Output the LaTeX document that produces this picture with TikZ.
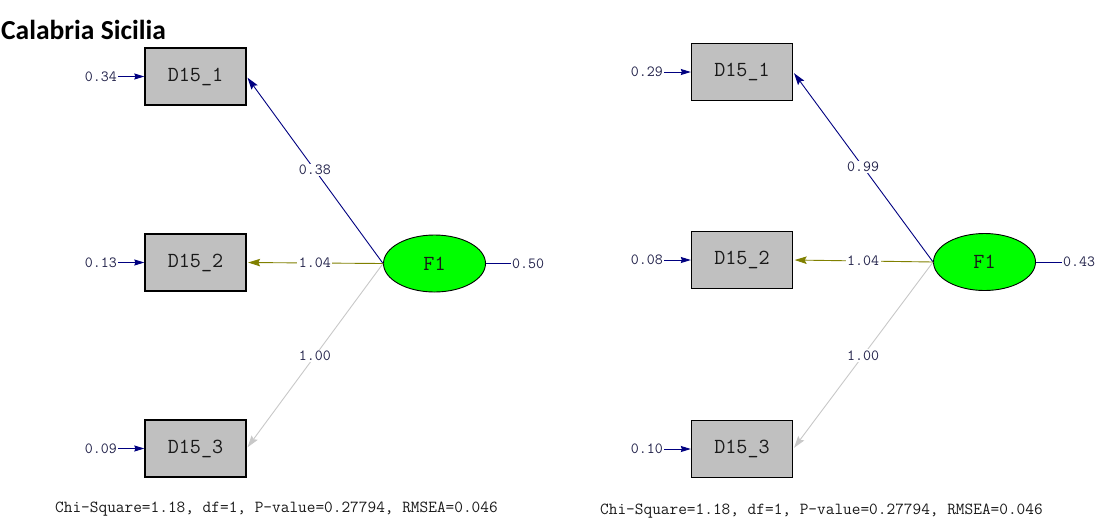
\documentclass[tikz,border=0pt]{standalone}
\usepackage{fontspec}
\newfontfamily\titlefont{Carlito}
\usetikzlibrary{shapes.geometric,arrows.meta}

\definecolor{pathnavy}{RGB}{0,0,128}
\definecolor{patholive}{RGB}{128,128,0}
\definecolor{pathgray}{RGB}{200,200,200}
\definecolor{boxgray}{RGB}{192,192,192}
\definecolor{factorgreen}{RGB}{0,255,0}
\definecolor{labelink}{RGB}{35,35,75}

\tikzset{
  obsbox/.style={draw=black, line width=1.3pt, fill=boxgray,
    minimum width=101pt, minimum height=57pt, inner sep=0pt,
    font=\ttfamily\fontsize{21.5}{21.5}\selectfont, text=black!90},
  factor/.style={ellipse, draw=black, line width=0.9pt, fill=factorgreen,
    minimum width=102pt, minimum height=57pt, inner sep=0pt,
    font=\ttfamily\fontsize{21.5}{21.5}\selectfont, text=black!90},
  numlabel/.style={font=\ttfamily\fontsize{15.5}{15.5}\selectfont, text=labelink, inner sep=1pt},
  onpath/.style={numlabel, fill=white, midway, inner sep=1.5pt},
  errarrow/.style={draw=pathnavy, line width=1pt,
    -{Stealth[length=10pt, width=6pt, inset=1pt]}},
  residline/.style={draw=pathnavy, line width=1pt},
  loading/.style={line width=0.9pt, shorten >=1.5pt,
    -{Stealth[length=12pt, width=7.5pt, inset=2pt]}},
  fitstat/.style={font=\ttfamily\fontsize{16.85}{16.85}\selectfont, text=black!90, anchor=west, inner sep=0pt}
}

\begin{document}
\begin{tikzpicture}[x=1pt, y=-1pt]
  \useasboundingbox (0,0) rectangle (1099,520);

  % heading
  \node[anchor=base west, inner sep=0pt, font=\titlefont\bfseries\fontsize{27.5}{27.5}\selectfont]
    (title) at (1,39) {Calabria Sicilia};

  % ---------------- Calabria model ----------------
  \node[obsbox] (cb1) at (195.5,76.5) {D15\_1};
  \node[obsbox] (cb2) at (195.5,262.5) {D15\_2};
  \node[obsbox] (cb3) at (195.5,448.5) {D15\_3};
  \node[factor] (cf)  at (434.5,263.5) {F1};

  \node[numlabel, anchor=east] (ce1) at (118,76.5) {0.34};
  \node[numlabel, anchor=east] (ce2) at (118,262.5) {0.13};
  \node[numlabel, anchor=east] (ce3) at (118,448.5) {0.09};
  \node[numlabel, anchor=west] (cef) at (511,263.5) {0.50};

  \draw[errarrow] (ce1.east) -- (cb1.west);
  \draw[errarrow] (ce2.east) -- (cb2.west);
  \draw[errarrow] (ce3.east) -- (cb3.west);
  \draw[residline] (cf.east) -- (cef.west);

  \draw[loading, pathgray] (cf.west) -- (cb3.east) node[onpath] (cl3) {1.00};
  \draw[loading, pathnavy] (cf.west) -- (cb1.east) node[onpath] (cl1) {0.38};
  \draw[loading, patholive] (cf.west) -- (cb2.east) node[onpath] (cl2) {1.04};

  \node[fitstat] (cfit) at (55,509) {Chi-Square=1.18, df=1, P-value=0.27794, RMSEA=0.046};

  % ---------------- Sicilia model ----------------
  \node[obsbox] (sb1) at (742,72) {D15\_1};
  \node[obsbox] (sb2) at (742,260) {D15\_2};
  \node[obsbox] (sb3) at (742,449) {D15\_3};
  \node[factor] (sf)  at (984.5,262) {F1};

  \node[numlabel, anchor=east] (se1) at (664,72) {0.29};
  \node[numlabel, anchor=east] (se2) at (664,260) {0.08};
  \node[numlabel, anchor=east] (se3) at (664,449) {0.10};
  \node[numlabel, anchor=west] (sef) at (1062,262) {0.43};

  \draw[errarrow] (se1.east) -- (sb1.west);
  \draw[errarrow] (se2.east) -- (sb2.west);
  \draw[errarrow] (se3.east) -- (sb3.west);
  \draw[residline] (sf.east) -- (sef.west);

  \draw[loading, pathgray] (sf.west) -- (sb3.east) node[onpath] (sl3) {1.00};
  \draw[loading, pathnavy] (sf.west) -- (sb1.east) node[onpath] (sl1) {0.99};
  \draw[loading, patholive] (sf.west) -- (sb2.east) node[onpath] (sl2) {1.04};

  \node[fitstat] (sfit) at (600,511) {Chi-Square=1.18, df=1, P-value=0.27794, RMSEA=0.046};
\end{tikzpicture}
\end{document}
